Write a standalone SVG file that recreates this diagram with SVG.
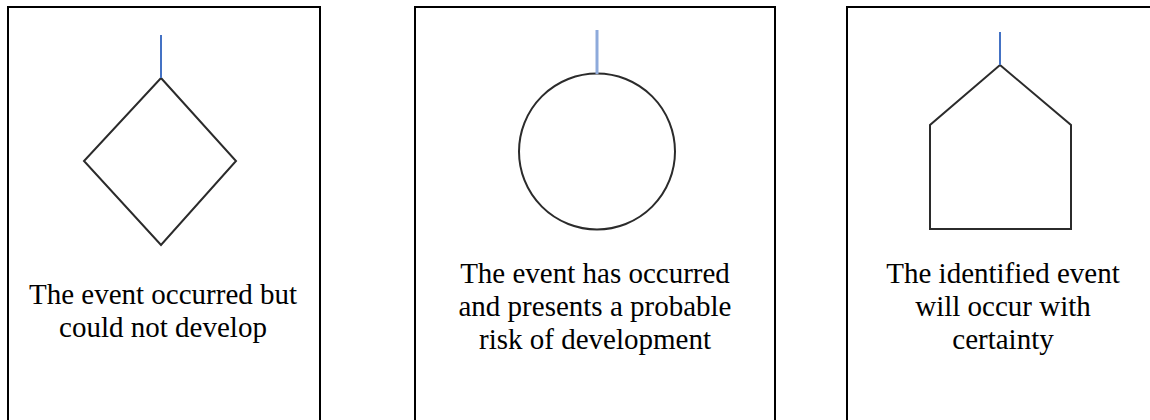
<svg xmlns="http://www.w3.org/2000/svg" width="1150" height="420" viewBox="0 0 1150 420">
<style>
.box{fill:#fff;stroke:#000;stroke-width:2}
.shape{fill:none;stroke:#2b2b2b;stroke-width:2}
.lbl{font-family:"Liberation Serif","Times New Roman",serif;font-size:29px;fill:#000;text-anchor:middle}
.stem{stroke:#4472c4;stroke-width:2}
.stem2{stroke:#8eaadb;stroke-width:3}
</style>
<rect width="1150" height="420" fill="#fff"/>
<g id="panel1">
<rect class="box" x="8" y="7" width="312" height="430"/>
<polygon class="shape" points="161,78 236,161 161,245 84,161"/>
<text class="lbl" x="163" y="304">The event occurred but</text>
<text class="lbl" x="163" y="337">could not develop</text>
</g>
<g id="panel2">
<rect class="box" x="415" y="7" width="360" height="430"/>
<circle class="shape" cx="597" cy="151.5" r="78" stroke="#111"/>
<text class="lbl" x="595" y="283">The event has occurred</text>
<text class="lbl" x="595" y="316">and presents a probable</text>
<text class="lbl" x="595" y="349">risk of development</text>
</g>
<g id="panel3">
<rect class="box" x="847" y="7" width="320" height="430"/>
<polygon class="shape" points="1000,65 1071,125 1071,229 930,229 930,125" stroke-width="2.5"/>
<text class="lbl" x="1003" y="283">The identified event</text>
<text class="lbl" x="1003" y="316">will occur with</text>
<text class="lbl" x="1003" y="349">certainty</text>
</g>
<g id="connectors">
<line class="stem" x1="161" y1="35" x2="161" y2="78"/>
<line class="stem2" x1="597" y1="30" x2="597" y2="74"/>
<line class="stem" x1="1000" y1="32" x2="1000" y2="65"/>
</g>
</svg>
